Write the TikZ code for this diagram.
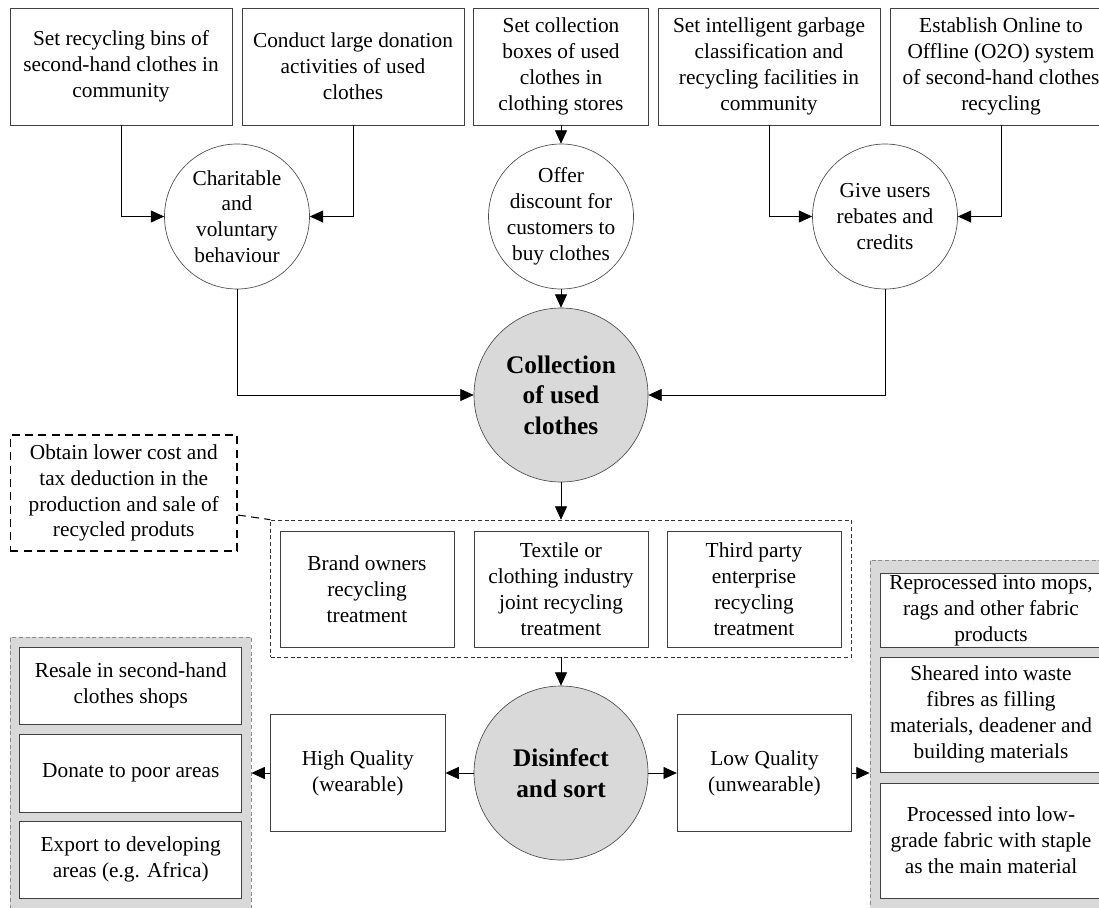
\documentclass[tikz,border=0pt]{standalone}
\usepackage{fontspec}
\setmainfont{Liberation Serif}
\usetikzlibrary{arrows.meta}
\definecolor{lgrey}{HTML}{D9D9D9}
\begin{document}
\begin{tikzpicture}[x=0.75pt,y=-0.75pt,
  every node/.style={font=\fontsize{16}{19.4}\selectfont, align=center, inner sep=1pt},
  box/.style={draw=black!75, line width=0.6pt, fill=white, minimum height=87.75pt},
  wbox/.style={box, minimum width=166.5pt},
  nbox/.style={box, minimum width=131.25pt},
  sbox/.style={draw=black!75, line width=0.6pt, fill=white, minimum width=166.3pt},
  smallc/.style={circle, draw=black!70, line width=0.5pt, fill=white, minimum size=108.75pt, inner sep=0pt},
  ctext/.style={align=center, font=\fontsize{16}{19.4}\selectfont},
  bigc/.style={circle, draw=black!70, line width=0.5pt, fill=lgrey, minimum size=130.5pt, inner sep=0pt, font=\fontsize{19}{23}\selectfont\bfseries},
  arr/.style={-{Triangle[length=10pt,width=9pt]}, line width=0.6pt, black},
  greycont/.style={draw=black!45, fill=lgrey, line width=0.6pt, dash pattern=on 3pt off 2pt},
  midcont/.style={draw=black!80, line width=0.5pt, dash pattern=on 3pt off 2pt},
  notebox/.style={draw=black, line width=1.1pt, dash pattern=on 6pt off 4pt, minimum width=170pt, minimum height=87pt}
]
\useasboundingbox (0,0) rectangle (1099,907);
\clip (0,0) rectangle (1099,907);
\fill[white] (0,0) rectangle (1099,907);

% top row
\node[wbox] (b1) at (121,66.5) {Set recycling bins of\\second-hand clothes in\\community};
\node[wbox] (b2) at (353,66.5) {Conduct large donation\\activities of used\\clothes};
\node[nbox] (b3) at (561,66.5) {Set collection\\boxes of used\\clothes in\\clothing stores};
\node[wbox] (b4) at (769,66.5) {Set intelligent garbage\\classification and\\recycling facilities in\\community};
\node[wbox] (b5) at (1001,66.5) {Establish Online to\\Offline (O2O) system\\of second-hand clothes\\recycling};

% circles
\node[smallc, label={[ctext]center:{Charitable\\and\\voluntary\\behaviour}}] (c1) at (237,216.5) {};
\node[smallc, label={[ctext]center:{Offer\\discount for\\customers to\\buy clothes}}] (c2) at (561,216.5) {};
\node[smallc, label={[ctext]center:{Give users\\rebates and\\credits}}] (c3) at (885,216.5) {};

\node[bigc] (coll) at (561,395) {Collection\\of used\\clothes};

% note
\node[notebox] (note) at (123.75,493) {Obtain lower cost and\\tax deduction in the\\production and sale of\\recycled produts};

% middle container
\node[midcont, minimum width=435.4pt, minimum height=102.75pt] (mid) at (561,588.5) {};
\node[box, minimum width=130.5pt, minimum height=87pt] (ta) at (367,589) {Brand owners\\recycling\\treatment};
\node[box, minimum width=130.5pt, minimum height=87pt] (tb) at (561,589) {Textile or\\clothing industry\\joint recycling\\treatment};
\node[box, minimum width=130.5pt, minimum height=87pt] (tc) at (754,589) {Third party\\enterprise\\recycling\\treatment};

\node[bigc] (dis) at (561,773) {Disinfect\\and sort};

\node[box, minimum width=130.9pt] (hq) at (357.75,773) {High Quality\\(wearable)};
\node[box, minimum width=130.9pt] (lq) at (764.5,773) {Low Quality\\(unwearable)};

% left container
\node[greycont, minimum width=180.4pt, minimum height=208.5pt] (lcont) at (130.75,776) {};
\node[sbox, minimum height=57.75pt] (l1) at (130.75,685.5) {Resale in second-hand\\clothes shops};
\node[sbox, minimum height=58.5pt] (l2) at (130.75,773) {Donate to poor areas};
\node[sbox, minimum height=57.75pt] (l3) at (130.75,859.5) {Export to developing\\areas (e.g. Africa)};

% right container
\node[greycont, minimum width=181.5pt, minimum height=266.25pt] (rcont) at (991,737.5) {};
\node[sbox, minimum height=54.75pt] (r1) at (991,610.5) {Reprocessed into mops,\\rags and other fabric\\products};
\node[sbox, minimum height=86.25pt] (r2) at (991,714.5) {Sheared into waste\\fibres as filling\\materials, deadener and\\building materials};
\node[sbox, minimum height=86.25pt] (r3) at (991,840.5) {Processed into low-\\grade fabric with staple\\as the main material};

% connectors
\draw[arr] (b1.south) |- (c1.west);
\draw[arr] (b2.south) |- (c1.east);
\draw[arr] (b3.south) -- (c2.north);
\draw[arr] (b4.south) |- (c3.west);
\draw[arr] (b5.south) |- (c3.east);
\draw[arr] (c1.south) |- (coll.west);
\draw[arr] (c3.south) |- (coll.east);
\draw[arr] (c2.south) -- (coll.north);
\draw[arr] (coll.south) -- (coll.south |- mid.north);
\draw[arr] (mid.south -| dis.north) -- (dis.north);
\draw[arr] (dis.west) -- (dis.west -| hq.east);
\draw[arr] (dis.east) -- (dis.east -| lq.west);
\draw[arr] (hq.west) -- (hq.west -| lcont.east);
\draw[arr] (lq.east) -- (lq.east -| rcont.west);
\draw[line width=0.8pt, dash pattern=on 6pt off 4pt] ([yshift=-16.5pt]note.east) -- (mid.north west);
\end{tikzpicture}
\end{document}
